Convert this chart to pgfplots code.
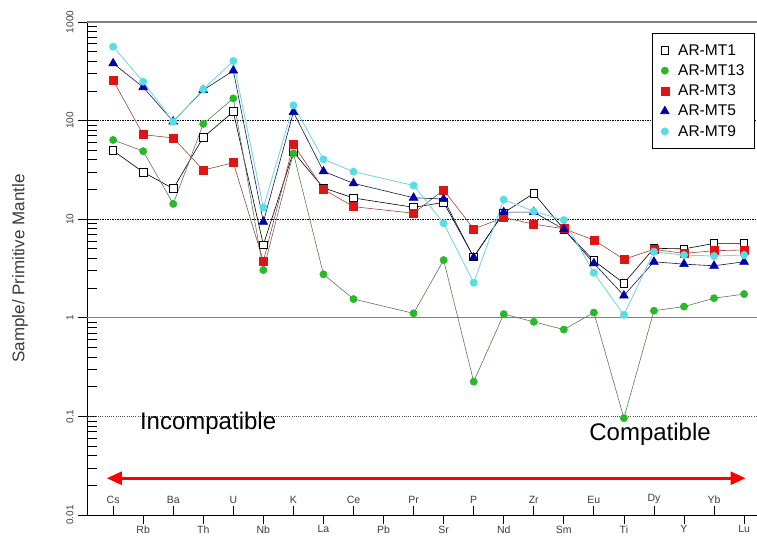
\documentclass[border=0pt]{standalone}
\usepackage{pgfplots}
\pgfplotsset{compat=1.18}
\usepackage{fontspec}
\setmainfont{Liberation Sans}
\usetikzlibrary{arrows.meta}
\definecolor{mtgreen}{RGB}{40,185,40}
\definecolor{mtgreenline}{RGB}{90,120,90}
\definecolor{mtred}{RGB}{225,20,20}
\definecolor{mtredline}{RGB}{150,70,60}
\definecolor{mtblue}{RGB}{0,0,170}
\definecolor{mtblueline}{RGB}{20,20,80}
\definecolor{mtcyan}{RGB}{90,220,230}
\definecolor{mtcyanline}{RGB}{120,215,225}
\definecolor{txtgray}{RGB}{60,60,60}
\begin{document}
\begin{tikzpicture}
\useasboundingbox (0,0) rectangle (757pt,535pt);
\begin{axis}[
  at={(87pt,20pt)}, anchor=south west,
  scale only axis, width=670pt, height=493pt,
  xmin=-0.87, xmax=21.43,
  ymode=log, ymin=0.01, ymax=1000,
  axis x line*=bottom, axis y line*=left,
  axis line style={black, line width=0.9pt},
  tick style={black, line width=0.8pt},
  tick align=inside,
  major tick length=9pt, minor tick length=10pt,
  xtick={0,2,...,20},
  xticklabels={Cs,Ba,U,K,Ce,Pr,P,Zr,Eu,Dy,Yb},
  xticklabel style={anchor=south, yshift=8pt, font=\fontsize{10.5}{12}\selectfont, text=txtgray},
  extra x ticks={1,3,...,21},
  extra x tick labels={Rb,Th,Nb,La,Pb,Sr,Nd,Sm,Ti,Y,Lu},
  extra x tick style={tick align=outside, major tick length=9pt, xticklabel style={anchor=north, yshift=-9pt, inner sep=0.5pt}},
  ytick={0.01,0.1,1,10,100,1000},
  yticklabels={0.01,0.1,1,10,100,1000},
  yticklabel style={rotate=90, anchor=south, font=\fontsize{10}{11}\selectfont, text=txtgray},
  yticklabel shift=10pt,
  extra y ticks={0.01,0.1,1,10,100,1000},
  extra y tick labels={},
  extra y tick style={tick align=outside, major tick length=9pt},
  every axis y label/.style={at={(axis description cs:-0.1,0.5)}, rotate=90, anchor=center},
  ylabel={Sample/ Primitive Mantle},
  ylabel style={font=\fontsize{17}{19}\selectfont, text=txtgray},
  legend style={at={(0.997,0.978)}, anchor=north east, draw=black, line width=1pt,
    font=\fontsize{15.5}{17}\selectfont, inner xsep=8pt, inner ysep=9pt, row sep=4pt,
    /tikz/every odd column/.append style={column sep=7pt}},
  legend cell align=left,
  legend image code/.code={\draw[#1, only marks] plot coordinates {(0.25cm,0pt)};},
]
% reference lines
\draw[gray, line width=1.2pt] (axis cs:-0.87,1000) -- (axis cs:21.43,1000);
\draw[black, line width=0.8pt, dash pattern=on 2pt off 1.2pt on 0.6pt off 1.2pt] (axis cs:-0.87,100) -- (axis cs:21.43,100);
\draw[black, line width=0.8pt, dash pattern=on 2pt off 1.2pt on 0.6pt off 1.2pt] (axis cs:-0.87,10) -- (axis cs:21.43,10);
\draw[gray, line width=1pt] (axis cs:-0.87,1) -- (axis cs:21.43,1);
\draw[black!70, line width=0.6pt, dash pattern=on 1pt off 1.2pt] (axis cs:-0.87,0.1) -- (axis cs:21.43,0.1);

\addplot[black, line width=0.6pt, mark=square*, mark size=3.8pt, mark options={fill=white, draw=black, line width=0.9pt}]
coordinates {(0,49.5) (1,30) (2,20.4) (3,67.7) (4,123) (5,5.5) (6,48) (7,20.8) (8,16.4) (10,13.2) (11,14.8) (12,4.15) (13,11.6) (14,18.3) (15,7.9) (16,3.8) (17,2.24) (18,5.07) (19,5.0) (20,5.68) (21,5.68)};
\addlegendentry{AR-MT1}
\addplot[mtgreenline, line width=0.6pt, mark=*, mark size=3.6pt, mark options={fill=mtgreen, draw=mtgreen}]
coordinates {(0,63.6) (1,49) (2,14.3) (3,92.5) (4,168) (5,3.05) (6,46.6) (7,2.76) (8,1.55) (10,1.11) (11,3.85) (12,0.225) (13,1.09) (14,0.91) (15,0.76) (16,1.13) (17,0.096) (18,1.18) (19,1.30) (20,1.58) (21,1.74)};
\addlegendentry{AR-MT13}
\addplot[mtredline, line width=0.6pt, mark=square*, mark size=4pt, mark options={fill=mtred, draw=mtred}]
coordinates {(0,256) (1,72) (2,66.7) (3,31.5) (4,37.4) (5,3.76) (6,57.5) (7,20.1) (8,13.4) (10,11.5) (11,19.8) (12,7.96) (13,10.4) (14,8.9) (15,8.0) (16,6.15) (17,3.92) (18,4.95) (19,4.5) (20,4.79) (21,4.87)};
\addlegendentry{AR-MT3}
\addplot[mtblueline, line width=0.6pt, mark=triangle*, mark size=5pt, mark options={fill=mtblue, draw=mtblue}]
coordinates {(0,381) (1,218) (2,98) (3,204) (4,321) (5,9.4) (6,122) (7,30.6) (8,23.1) (10,16.5) (11,16.0) (12,4.1) (13,11.8) (14,11.8) (15,7.9) (16,3.57) (17,1.68) (18,3.7) (19,3.5) (20,3.37) (21,3.7)};
\addlegendentry{AR-MT5}
\addplot[mtcyanline, line width=0.9pt, mark=*, mark size=3.5pt, mark options={fill=mtcyan, draw=mtcyan}]
coordinates {(0,562) (1,248) (2,97.5) (3,208) (4,402) (5,13.1) (6,143) (7,40.5) (8,30.3) (10,22) (11,9.1) (12,2.27) (13,15.8) (14,12) (15,9.8) (16,2.86) (17,1.07) (18,4.68) (19,4.33) (20,4.23) (21,4.33)};
\addlegendentry{AR-MT9}

\node[font=\fontsize{24}{28}\selectfont] at (axis cs:3.16,0.0857) {Incompatible};
\node[font=\fontsize{24}{28}\selectfont] at (axis cs:17.87,0.0664) {Compatible};
\draw[red, line width=2.6pt, {Triangle[length=15pt,width=13pt]}-{Triangle[length=15pt,width=13pt]}] (axis cs:-0.21,0.0236) -- (axis cs:21.05,0.0236);
\end{axis}
\end{tikzpicture}
\end{document}
